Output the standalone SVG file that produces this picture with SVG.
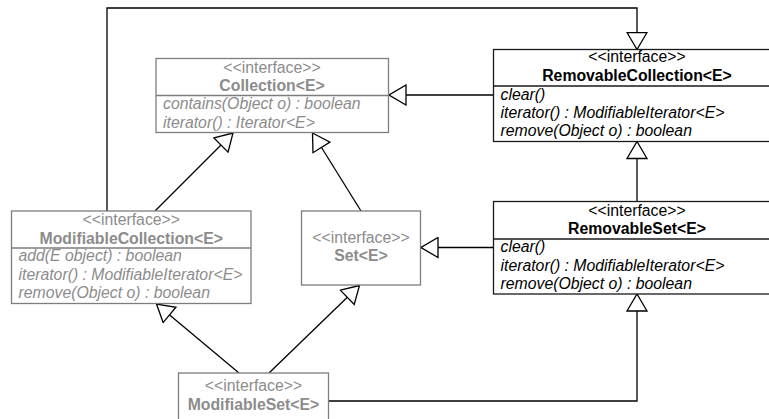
<svg xmlns="http://www.w3.org/2000/svg" width="769" height="419" viewBox="0 0 769 419">
<style>
text{font-family:"Liberation Sans",Arial,sans-serif;font-size:15.8px}
.st{text-anchor:middle}
.nm{text-anchor:middle;font-weight:bold}
.mt{font-style:italic}
.g rect,.g line{fill:#fff;stroke:#7d7d7d;stroke-width:1.3}
.g text{fill:#8c8c8c}
.k rect,.k line{fill:#fff;stroke:#1a1a1a;stroke-width:1.3}
.k text{fill:#000}
.c{fill:none;stroke:#000;stroke-width:1.3}
</style>
<defs>
<marker id="tri" markerUnits="userSpaceOnUse" viewBox="-1 -11 19 22" markerWidth="19" markerHeight="22" refX="17" refY="0" orient="auto">
<path d="M0,-10 L17,0 L0,10 Z" fill="#fff" stroke="#000" stroke-width="1.3"/>
</marker>
</defs>
<rect width="769" height="419" fill="#fff"/>
<g id="connectors">
<polyline class="c" points="107,211 107,8 637,8 637,49.5" marker-end="url(#tri)"/>
<line class="c" x1="493.5" y1="95" x2="389" y2="95" marker-end="url(#tri)"/>
<line class="c" x1="637" y1="201.5" x2="637" y2="141.5" marker-end="url(#tri)"/>
<line class="c" x1="493.5" y1="247.5" x2="421" y2="247.5" marker-end="url(#tri)"/>
<line class="c" x1="155" y1="211" x2="233" y2="133" marker-end="url(#tri)"/>
<line class="c" x1="361" y1="211" x2="312.5" y2="133" marker-end="url(#tri)"/>
<line class="c" x1="239" y1="373" x2="156.5" y2="304" marker-end="url(#tri)"/>
<line class="c" x1="269" y1="373" x2="359.5" y2="285.5" marker-end="url(#tri)"/>
<polyline class="c" points="328.5,401 637,401 637,294" marker-end="url(#tri)"/>
</g>
<g id="Collection" class="g">
<rect x="156" y="58.5" width="232.5" height="74"/>
<line x1="156" y1="95.5" x2="388.5" y2="95.5"/>
<text class="st" x="272" y="72.5">&lt;&lt;interface&gt;&gt;</text>
<text class="nm" x="272" y="90.5">Collection&lt;E&gt;</text>
<text class="mt" x="163" y="109">contains(Object o) : boolean</text>
<text class="mt" x="163" y="127.5">iterator() : Iterator&lt;E&gt;</text>
</g>
<g id="RemovableCollection" class="k">
<rect x="493.5" y="49.5" width="287" height="92"/>
<line x1="493.5" y1="86" x2="780.5" y2="86"/>
<text class="st" x="637" y="62">&lt;&lt;interface&gt;&gt;</text>
<text class="nm" x="637" y="80.5">RemovableCollection&lt;E&gt;</text>
<text class="mt" x="500.5" y="99.5">clear()</text>
<text class="mt" x="500.5" y="118">iterator() : ModifiableIterator&lt;E&gt;</text>
<text class="mt" x="500.5" y="136">remove(Object o) : boolean</text>
</g>
<g id="ModifiableCollection" class="g">
<rect x="11.5" y="211" width="239.5" height="92.5"/>
<line x1="11.5" y1="248" x2="251" y2="248"/>
<text class="st" x="131.3" y="224.5">&lt;&lt;interface&gt;&gt;</text>
<text class="nm" x="131.3" y="243.5">ModifiableCollection&lt;E&gt;</text>
<text class="mt" x="18.5" y="261">add(E object) : boolean</text>
<text class="mt" x="18.5" y="279.5">iterator() : ModifiableIterator&lt;E&gt;</text>
<text class="mt" x="18.5" y="298">remove(Object o) : boolean</text>
</g>
<g id="Set" class="g">
<rect x="301.5" y="211" width="119" height="74"/>
<text class="st" x="361" y="243">&lt;&lt;interface&gt;&gt;</text>
<text class="nm" x="361" y="261">Set&lt;E&gt;</text>
</g>
<g id="RemovableSet" class="k">
<rect x="493.5" y="201.5" width="287" height="92.5"/>
<line x1="493.5" y1="239" x2="780.5" y2="239"/>
<text class="st" x="637" y="215.5">&lt;&lt;interface&gt;&gt;</text>
<text class="nm" x="637" y="233.5">RemovableSet&lt;E&gt;</text>
<text class="mt" x="500.5" y="252">clear()</text>
<text class="mt" x="500.5" y="270.5">iterator() : ModifiableIterator&lt;E&gt;</text>
<text class="mt" x="500.5" y="289">remove(Object o) : boolean</text>
</g>
<g id="ModifiableSet" class="g">
<rect x="178.5" y="373" width="150" height="60"/>
<text class="st" x="253.5" y="391">&lt;&lt;interface&gt;&gt;</text>
<text class="nm" x="253.5" y="409.5">ModifiableSet&lt;E&gt;</text>
</g>
</svg>
